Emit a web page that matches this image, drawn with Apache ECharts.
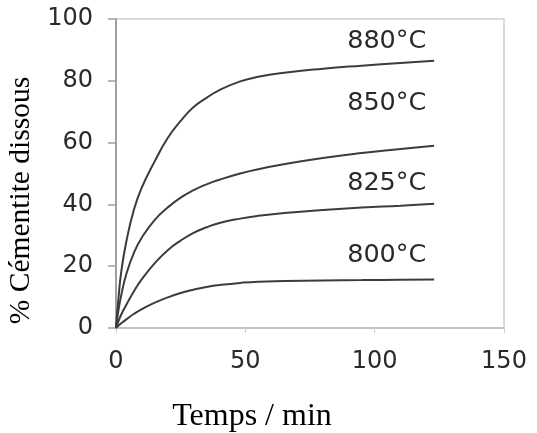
<!DOCTYPE html>
<html>
<head>
<meta charset="utf-8">
<script src="https://cdn.jsdelivr.net/npm/echarts@6/dist/echarts.min.js"></script>
<style>html,body{margin:0;padding:0;background:#fff}#c{width:537px;height:433px}</style>
</head>
<body>
<div id="c"></div>
<script>
var times = [0, 1, 2, 4, 7, 10, 15, 20, 25, 30, 35, 40, 48, 55, 65, 80, 95, 110, 123];
var s880 = [0, 10, 18, 28, 38.5, 45.5, 54, 61.5, 67, 71.5, 74.5, 77, 79.8, 81.3, 82.6, 83.9, 84.9, 85.8, 86.5];
var s850 = [0, 6, 10.5, 17.5, 24.5, 29.3, 35, 39, 42.2, 44.6, 46.5, 48, 50, 51.4, 53, 55, 56.6, 57.9, 59];
var s825 = [0, 2.3, 4.3, 7.5, 12, 15.8, 21, 25.2, 28.3, 30.8, 32.6, 34, 35.4, 36.3, 37.2, 38.2, 39, 39.6, 40.2];
var s800 = [0, 0.8, 1.5, 2.8, 4.6, 6.1, 8.2, 9.9, 11.3, 12.4, 13.3, 13.9, 14.6, 15, 15.2, 15.4, 15.5, 15.6, 15.7];
var seriesNames = ['880°C', '850°C', '825°C', '800°C'];
var seriesValues = [s880, s850, s825, s800];
var xTicks = [0, 50, 100, 150];
var yTicks = [0, 20, 40, 60, 80, 100];

// label anchor (in data units) for each curve name
var labelAnchorT = 120;
var labelAnchorV = [92.9, 72.6, 46.8, 23.5];

var chart = echarts.init(document.getElementById('c'), null, {renderer: 'canvas'});
var series = seriesNames.map(function (name, i) {
  return {
    name: name,
    type: 'line',
    smooth: 0.5,
    symbol: 'none',
    data: times.map(function (t, k) { return [t, seriesValues[i][k]]; }),
    lineStyle: {color: '#3c3c3c', width: 2},
    markPoint: {
      symbol: 'circle',
      symbolSize: 0,
      data: [{coord: [labelAnchorT, labelAnchorV[i]]}],
      label: {
        show: true,
        position: 'left',
        distance: 0,
        formatter: name,
        color: '#2a2a2a',
        fontFamily: 'DejaVu Sans',
        fontSize: 25.5
      }
    }
  };
});

chart.setOption({
  animation: false,
  backgroundColor: '#fff',
  grid: {left: 116, right: 33, top: 19, bottom: 105, show: true, borderColor: '#cfcfcf', borderWidth: 1.5,
         containLabel: false, outerBoundsMode: 'none'},
  xAxis: {
    type: 'value', min: xTicks[0], max: xTicks[xTicks.length - 1], interval: 50,
    name: 'Temps / min', nameLocation: 'middle', nameGap: 73,
    nameTextStyle: {fontFamily: 'Liberation Serif', fontSize: 32, color: '#000', padding: [0, 116, 0, 0]},
    axisLine: {lineStyle: {color: '#bdbdbd', width: 1.5}},
    axisTick: {show: true, inside: false, length: 5, lineStyle: {color: '#d0d0d0'}},
    axisLabel: {margin: 22, color: '#2a2a2a', fontFamily: 'DejaVu Sans', fontSize: 24},
    splitLine: {show: false}
  },
  yAxis: {
    type: 'value', min: yTicks[0], max: yTicks[yTicks.length - 1], interval: 20,
    name: '% Cémentite dissous', nameLocation: 'middle', nameGap: 78, nameRotate: 90,
    nameTextStyle: {fontFamily: 'Liberation Serif', fontSize: 29.5, color: '#000', padding: [0, 54, 0, 0]},
    axisLine: {show: true, lineStyle: {color: '#a0a0a0', width: 2}},
    axisTick: {show: true, length: 8, lineStyle: {color: '#a0a0a0', width: 1.5}},
    axisLabel: {margin: 23, color: '#2a2a2a', fontFamily: 'DejaVu Sans', fontSize: 24},
    splitLine: {show: false}
  },
  series: series
});
</script>
</body>
</html>
